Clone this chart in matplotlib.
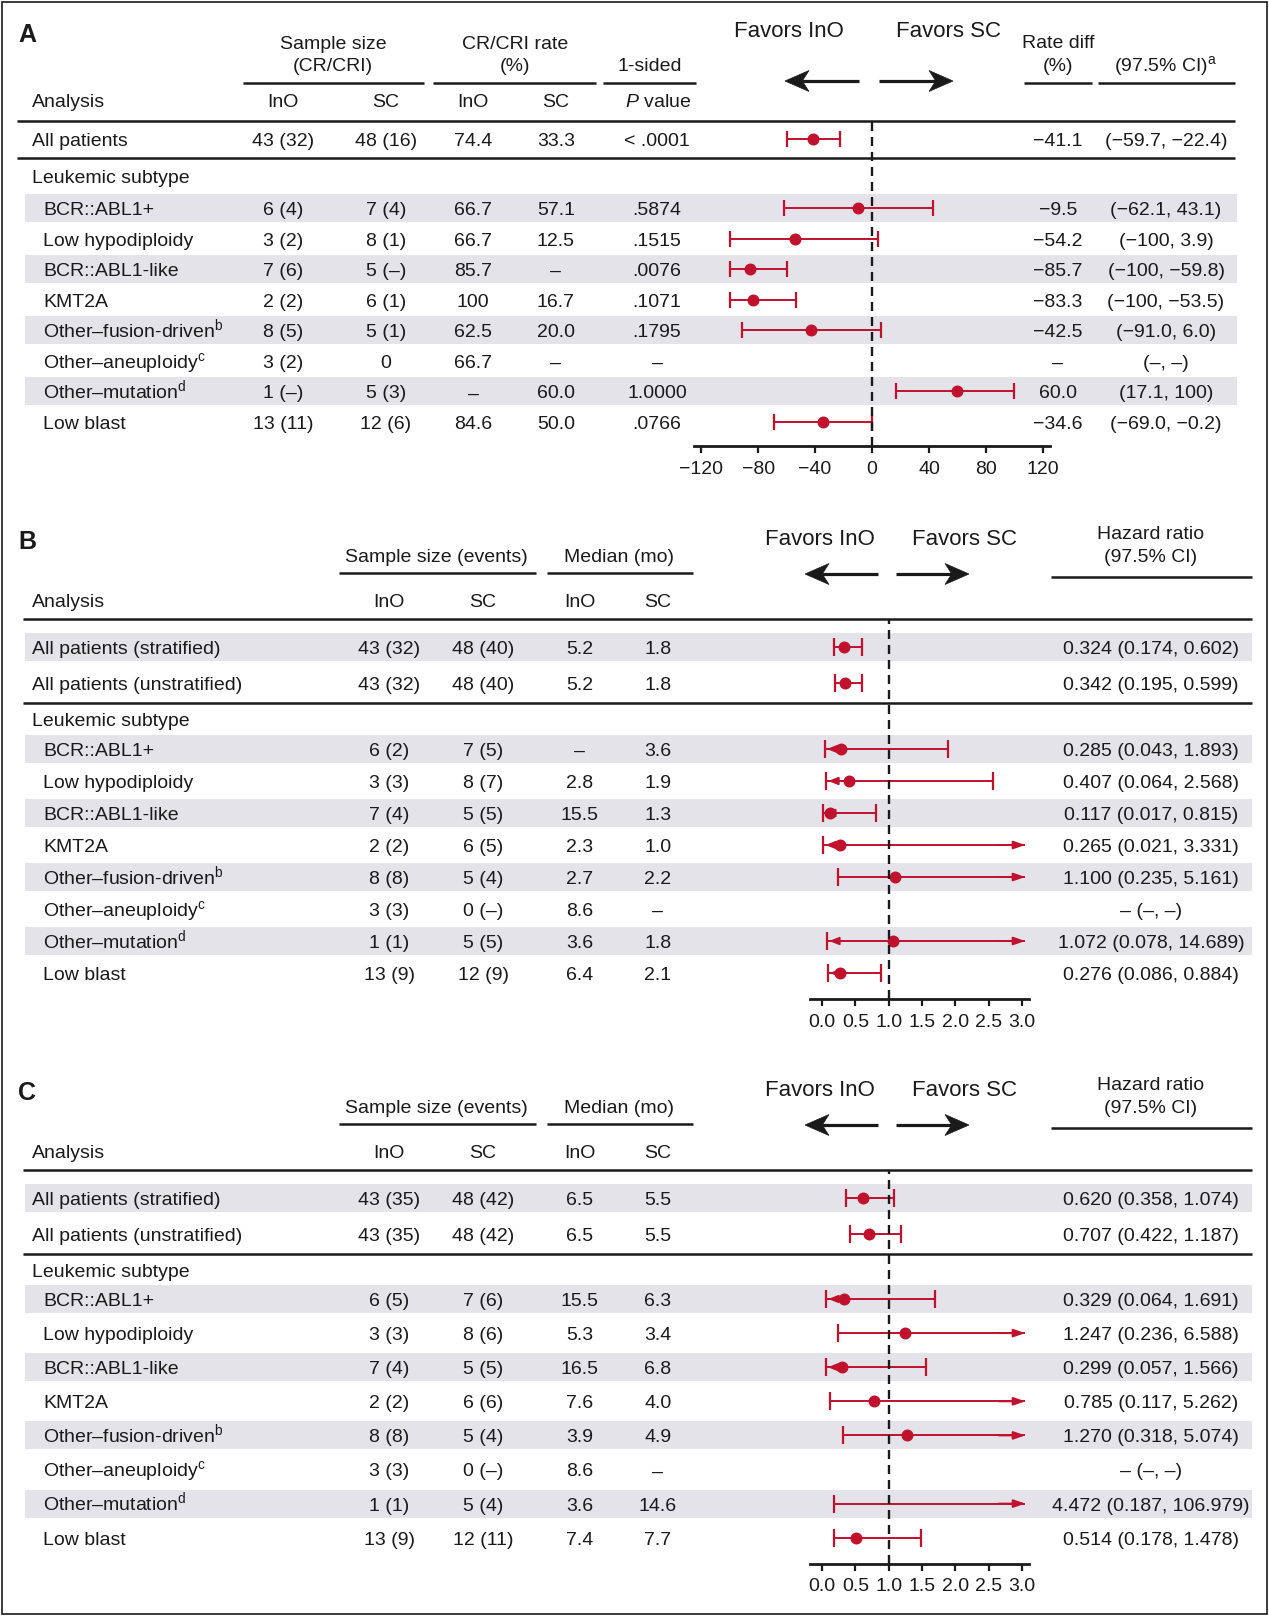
import numpy as np
import matplotlib
matplotlib.use('Agg')
import matplotlib.pyplot as plt
from matplotlib.patches import Rectangle, Polygon

plt.rcParams['font.family'] = ['Liberation Sans', 'DejaVu Sans']
plt.rcParams['mathtext.fontset'] = 'custom'
plt.rcParams['mathtext.rm'] = 'Liberation Sans'
plt.rcParams['mathtext.it'] = 'Liberation Sans:italic'
plt.rcParams['mathtext.bf'] = 'Liberation Sans:bold'
plt.rcParams['lines.scale_dashes'] = False

nan = np.nan

# ------------------------------------------------------------------ data
subtypes = ['BCR::ABL1+', 'Low hypodiploidy', 'BCR::ABL1-like', 'KMT2A',
            'Other–fusion-driven$^{\\mathrm{b}}$', 'Other–aneuploidy$^{\\mathrm{c}}$',
            'Other–mutation$^{\\mathrm{d}}$', 'Low blast']

# Panel A : CR/CRi rate
A_overall = ['All patients']
A_ino_n = ['43 (32)', '6 (4)', '3 (2)', '7 (6)', '2 (2)', '8 (5)', '3 (2)', '1 (–)', '13 (11)']
A_sc_n = ['48 (16)', '7 (4)', '8 (1)', '5 (–)', '6 (1)', '5 (1)', '0', '5 (3)', '12 (6)']
A_ino_rate = ['74.4', '66.7', '66.7', '85.7', '100', '62.5', '66.7', '–', '84.6']
A_sc_rate = ['33.3', '57.1', '12.5', '–', '16.7', '20.0', '–', '60.0', '50.0']
A_pval = ['< .0001', '.5874', '.1515', '.0076', '.1071', '.1795', '–', '1.0000', '.0766']
A_diff = [-41.1, -9.5, -54.2, -85.7, -83.3, -42.5, nan, 60.0, -34.6]
A_lo = [-59.7, -62.1, -100, -100, -100, -91.0, nan, 17.1, -69.0]
A_hi = [-22.4, 43.1, 3.9, -59.8, -53.5, 6.0, nan, 100, -0.2]
A_ticks = [-120, -80, -40, 0, 40, 80, 120]

# Panel B
BC_overall = ['All patients (stratified)', 'All patients (unstratified)']
B_ino_n = ['43 (32)', '43 (32)', '6 (2)', '3 (3)', '7 (4)', '2 (2)', '8 (8)', '3 (3)', '1 (1)', '13 (9)']
B_sc_n = ['48 (40)', '48 (40)', '7 (5)', '8 (7)', '5 (5)', '6 (5)', '5 (4)', '0 (–)', '5 (5)', '12 (9)']
B_ino_med = ['5.2', '5.2', '–', '2.8', '15.5', '2.3', '2.7', '8.6', '3.6', '6.4']
B_sc_med = ['1.8', '1.8', '3.6', '1.9', '1.3', '1.0', '2.2', '–', '1.8', '2.1']
B_hr = [0.324, 0.342, 0.285, 0.407, 0.117, 0.265, 1.100, nan, 1.072, 0.276]
B_lo = [0.174, 0.195, 0.043, 0.064, 0.017, 0.021, 0.235, nan, 0.078, 0.086]
B_hi = [0.602, 0.599, 1.893, 2.568, 0.815, 3.331, 5.161, nan, 14.689, 0.884]

# Panel C
C_ino_n = ['43 (35)', '43 (35)', '6 (5)', '3 (3)', '7 (4)', '2 (2)', '8 (8)', '3 (3)', '1 (1)', '13 (9)']
C_sc_n = ['48 (42)', '48 (42)', '7 (6)', '8 (6)', '5 (5)', '6 (6)', '5 (4)', '0 (–)', '5 (4)', '12 (11)']
C_ino_med = ['6.5', '6.5', '15.5', '5.3', '16.5', '7.6', '3.9', '8.6', '3.6', '7.4']
C_sc_med = ['5.5', '5.5', '6.3', '3.4', '6.8', '4.0', '4.9', '–', '14.6', '7.7']
C_hr = [0.620, 0.707, 0.329, 1.247, 0.299, 0.785, 1.270, nan, 4.472, 0.514]
C_lo = [0.358, 0.422, 0.064, 0.236, 0.057, 0.117, 0.318, nan, 0.187, 0.178]
C_hi = [1.074, 1.187, 1.691, 6.588, 1.566, 5.262, 5.074, nan, 106.979, 1.478]
HR_ticks = [0.0, 0.5, 1.0, 1.5, 2.0, 2.5, 3.0]

# ------------------------------------------------------------------ style
W, H, DPI = 1269, 1616, 100
RED = '#c0112d'
SHADE = '#e4e3e9'
INK = '#1a1a1a'
FS = 14
FS_FAV = 16
FS_LET = 18
LW_RULE = 1.8

fig = plt.figure(figsize=(W / DPI, H / DPI), dpi=DPI)
bg = fig.add_axes([0, 0, 1, 1])
bg.set_xlim(0, W)
bg.set_ylim(H, 0)
bg.axis('off')


def cap(fs):
    return fs * DPI / 72 * 0.716


def T(x, y, s, ha='center', fs=FS, weight='normal'):
    bg.text(x, y + cap(fs) / 2, s, ha=ha, va='baseline', fontsize=fs,
            color=INK, fontweight=weight)


def rule(x0, x1, y, lw=LW_RULE):
    bg.plot([x0, x1], [y, y], color=INK, lw=lw, solid_capstyle='butt')


def shade(x0, x1, y, h=28):
    bg.add_patch(Rectangle((x0, y - h / 2), x1 - x0, h, facecolor=SHADE,
                           edgecolor='none', zorder=0))


def stealth(tail, tip, y, L=24, w=10.5, notch=0.72):
    d = 1 if tip > tail else -1
    base = tip - d * L * notch
    bg.plot([tail, base], [y, y], color=INK, lw=2.3, solid_capstyle='butt')
    pts = [(tip, y), (tip - d * L, y - w), (base, y), (tip - d * L, y + w)]
    bg.add_patch(Polygon(pts, closed=True, facecolor=INK, edgecolor=INK, lw=0.5))


def fav_arrows(xl_tail, xl_tip, xr_tail, xr_tip, y):
    stealth(xl_tail, xl_tip, y)
    stealth(xr_tail, xr_tip, y)


def forest_axes(px0, px1, py_top, py_bot, xlim, ticks, labels, ref):
    ax = fig.add_axes([px0 / W, 1 - py_bot / H, (px1 - px0) / W, (py_bot - py_top) / H])
    ax.set_xlim(*xlim)
    ax.set_ylim(py_bot, py_top)
    ax.patch.set_alpha(0)
    for s in ['top', 'left', 'right']:
        ax.spines[s].set_visible(False)
    ax.spines['bottom'].set_linewidth(2.0)
    ax.spines['bottom'].set_color(INK)
    ax.set_yticks([])
    ax.set_xticks(ticks)
    if labels is not None:
        ax.set_xticklabels(labels)
    ax.tick_params(axis='x', direction='out', length=5, width=1.6, pad=5.5,
                   labelsize=FS, colors=INK)
    ax.axvline(ref, color=INK, lw=1.7, dashes=(6.5, 4.3), zorder=5)
    return ax


def draw_ci(ax, est, lo, hi, ys, clip=None, cap_ms=11.5, small_left=None):
    for e, l, h, y in zip(est, lo, hi, ys):
        if np.isnan(l):
            continue
        right = h if (clip is None or h <= clip) else clip
        ax.plot([l, right], [y, y], color=RED, lw=1.4, solid_capstyle='butt',
                clip_on=False, zorder=3)
        ax.plot([l], [y], marker='|', ms=cap_ms, mew=1.6, color=RED,
                clip_on=False, zorder=3)
        if clip is None or h <= clip:
            ax.plot([h], [y], marker='|', ms=cap_ms, mew=1.6, color=RED,
                    clip_on=False, zorder=3)
        else:
            ax.annotate('', xy=(clip, y), xytext=(clip - 0.4, y),
                        arrowprops=dict(arrowstyle='-|>,head_length=0.7,head_width=0.24',
                                        lw=1.4, color=RED, mutation_scale=10,
                                        shrinkA=0, shrinkB=0), zorder=3)
        if small_left is not None and l < small_left:
            ax.annotate('', xy=(l + 0.03, y), xytext=(l + 0.25, y),
                        arrowprops=dict(arrowstyle='-|>,head_length=0.6,head_width=0.24',
                                        lw=1.2, color=RED, mutation_scale=10,
                                        shrinkA=0, shrinkB=0), zorder=3)
        if clip is None or e <= clip:
            ax.plot([e], [y], 'o', ms=7.6, color=RED, clip_on=False, zorder=4)


def fmt1(v):
    if np.isnan(v):
        return '–'
    s = '100' if abs(v) == 100 else f'{abs(v):.1f}'
    return ('−' if v < 0 else '') + s


def fmt_hr(e, l, h):
    if np.isnan(e):
        return '– (–, –)'
    return f'{e:.3f} ({l:.3f}, {h:.3f})'


# ================================================================ Panel A
T(27, 33, 'A', fs=FS_LET, weight='bold')
T(333, 42, 'Sample size')
T(333, 64, '(CR/CRI)')
T(515, 42, 'CR/CRI rate')
T(515, 64, '(%)')
T(650, 64, '1-sided')
T(1058, 41, 'Rate diff')
T(1058, 64, '(%)')
T(1166, 64, '(97.5% CI)$^{\\mathrm{a}}$')
for x0, x1 in [(243, 424), (433, 596), (603, 696), (1024, 1092), (1098, 1235)]:
    rule(x0, x1, 83)
T(789, 29, 'Favors InO', fs=FS_FAV)
T(948, 29, 'Favors SC', fs=FS_FAV)
fav_arrows(859, 785, 879, 953, 81)

T(32, 100, 'Analysis', ha='left')
for x, s in [(283, 'InO'), (386, 'SC'), (473, 'InO'), (556, 'SC')]:
    T(x, 100, s)
T(658, 100, '$\\mathit{P}$ value')
rule(17, 1235, 121)
rule(17, 1235, 158)

A_y = [139] + [208 + 30.57 * i for i in range(8)]
T(32, 176, 'Leukemic subtype', ha='left')
for i, y in enumerate(A_y):
    if i in (1, 3, 5, 7):
        shade(25, 1237, y)
    T(32 if i == 0 else 43, y, (A_overall + subtypes)[i], ha='left')
    T(283, y, A_ino_n[i])
    T(386, y, A_sc_n[i])
    T(473, y, A_ino_rate[i])
    T(556, y, A_sc_rate[i])
    T(657, y, A_pval[i])
    T(1058, y, fmt1(A_diff[i]))
    if np.isnan(A_lo[i]):
        T(1166, y, '(–, –)')
    else:
        T(1166, y, f'({fmt1(A_lo[i])}, {fmt1(A_hi[i])})')

axA = forest_axes(694, 1050, 121, 446, (-125, 125), A_ticks, None, 0)
draw_ci(axA, A_diff, A_lo, A_hi, A_y, clip=None, cap_ms=11.5)


# ================================================================ Panels B, C
def hr_panel(letter, y0, ino_n, sc_n, ino_med, sc_med, hr, lo, hi,
             first_sub, pitch):
    # y0 : y of the "Sample size (events)" heading
    T(27, y0 - 15, letter, fs=FS_LET, weight='bold')
    T(436, y0, 'Sample size (events)')
    T(619, y0, 'Median (mo)')
    rule(339, 536, y0 + 18)
    rule(547, 693, y0 + 18)
    T(820, y0 - 18, 'Favors InO', fs=FS_FAV)
    T(965, y0 - 18, 'Favors SC', fs=FS_FAV)
    fav_arrows(878, 805, 896, 969, y0 + 19)
    T(1151, y0 - 23, 'Hazard ratio')
    T(1151, y0, '(97.5% CI)')
    rule(1051, 1252, y0 + 22)

    ya = y0 + 45
    T(32, ya, 'Analysis', ha='left')
    for x, s in [(389, 'InO'), (483, 'SC'), (580, 'InO'), (658, 'SC')]:
        T(x, ya, s)
    top = y0 + 64
    rule(23, 1252, top)
    ys = [top + 28, top + 64] + [first_sub + pitch * i for i in range(8)]
    rule(23, 1252, top + 84)
    T(32, top + 100, 'Leukemic subtype', ha='left')
    labels = BC_overall + subtypes
    for i, y in enumerate(ys):
        if i in (0, 2, 4, 6, 8):
            shade(25, 1252, y)
        T(32 if i < 2 else 43, y, labels[i], ha='left')
        T(389, y, ino_n[i])
        T(483, y, sc_n[i])
        T(580, y, ino_med[i])
        T(658, y, sc_med[i])
        T(1151, y, fmt_hr(hr[i], lo[i], hi[i]))
    bottom = ys[-1] + 26
    ax = forest_axes(810, 1029, top, bottom, (-0.18, 3.105), HR_ticks,
                     [f'{t:.1f}' for t in HR_ticks], 1.0)
    draw_ci(ax, hr, lo, hi, ys, clip=3.05, cap_ms=13, small_left=0.1)


hr_panel('B', 555, B_ino_n, B_sc_n, B_ino_med, B_sc_med, B_hr, B_lo, B_hi,
         first_sub=749, pitch=32.0)
hr_panel('C', 1106, C_ino_n, C_sc_n, C_ino_med, C_sc_med, C_hr, C_lo, C_hi,
         first_sub=1299, pitch=34.1)

# outer frame
fig.add_artist(Rectangle((2 / W, 2 / H), 1 - 4 / W, 1 - 4 / H, transform=fig.transFigure,
                         fill=False, edgecolor=INK, lw=1.2))

fig.savefig('out.png', dpi=DPI)
